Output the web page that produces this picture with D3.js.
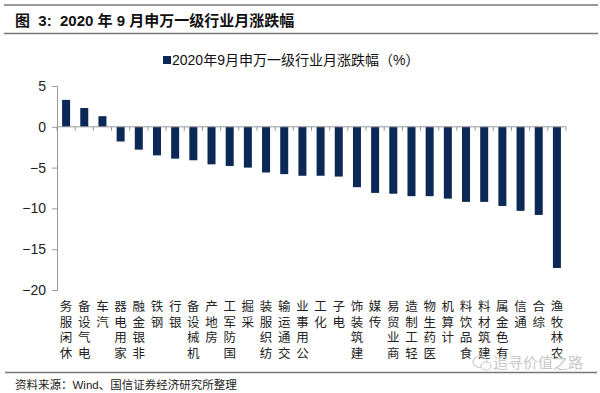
<!DOCTYPE html>
<html>
<head>
<meta charset="utf-8">
<script src="https://cdn.jsdelivr.net/npm/d3@7"></script>
<style>
  body { margin: 0; background: #fff; }
  text { font-family: Arial, "Liberation Sans", "Noto Sans CJK SC", sans-serif; }
</style>
</head>
<body>
<script>
// 申万一级行业 2020年9月 月涨跌幅 (%)
var industries = ["休闲服务", "电气设备", "汽车", "家用电器", "非银金融", "钢铁", "银行",
    "机械设备", "房地产", "国防军工", "采掘", "纺织服装", "交通运输", "公用事业", "化工",
    "电子", "建筑装饰", "传媒", "商业贸易", "轻工制造", "医药生物", "计算机", "食品饮料",
    "建筑材料", "有色金属", "通信", "综合", "农林牧渔"];
var changes = [3.3, 2.3, 1.3, -1.8, -2.8, -3.5, -3.9,
    -4.1, -4.6, -4.8, -5.0, -5.6, -5.8, -6.0, -6.0,
    -6.1, -7.4, -8.1, -8.2, -8.5, -8.5, -8.8, -9.2,
    -9.2, -9.7, -10.3, -10.8, -17.3];
var yTicks = [5, 0, -5, -10, -15, -20];

var width = 600;
var height = 393;
var barColor = "#0b2856";
var cjk = '"Noto Sans CJK SC", sans-serif';

var svg = d3.select("body").append("svg")
    .attr("width", width)
    .attr("height", height);

// header
svg.append("line").attr("x1", 4).attr("x2", 598).attr("y1", 5).attr("y2", 5)
    .attr("stroke", "#777").attr("stroke-width", 1.5);
svg.append("line").attr("x1", 4).attr("x2", 598).attr("y1", 33.5).attr("y2", 33.5)
    .attr("stroke", "#777").attr("stroke-width", 1.5);
svg.append("text")
    .attr("x", 15).attr("y", 26)
    .attr("font-size", 15).attr("font-weight", "bold").attr("fill", "#111")
    .style("font-family", 'Arial, "Noto Sans CJK SC", sans-serif')
    .attr("xml:space", "preserve")
    .text("图  3:  2020 年 9 月申万一级行业月涨跌幅");

// legend
svg.append("rect").attr("x", 163).attr("y", 56).attr("width", 8).attr("height", 8).attr("fill", barColor);
svg.append("text")
    .attr("x", 172).attr("y", 65)
    .attr("font-size", 14).attr("fill", "#111")
    .style("font-family", 'Arial, "Noto Sans CJK SC", sans-serif')
    .text("2020年9月申万一级行业月涨跌幅（%）");

// scales
var x = d3.scaleBand()
    .domain(industries)
    .range([57, 566])
    .paddingInner(0.56)
    .paddingOuter(0.28);

var y = d3.scaleLinear()
    .domain([-20, 5])
    .range([290, 86]);

// y axis
var yAxis = d3.axisLeft(y).tickValues(yTicks).tickSize(5).tickPadding(6);
var gy = svg.append("g").attr("transform", "translate(57,0)").call(yAxis);
gy.selectAll("path, line").attr("stroke", "#999");
gy.selectAll("text").attr("font-size", 14).attr("fill", "#222")
    .style("font-family", "Arial, sans-serif");

// bars
svg.selectAll("rect.bar")
    .data(changes)
    .enter()
    .append("rect")
    .attr("class", "bar")
    .attr("x", function(d, i) { return x(industries[i]); })
    .attr("width", x.bandwidth())
    .attr("y", function(d) { return y(Math.max(0, d)); })
    .attr("height", function(d) { return Math.abs(y(d) - y(0)); })
    .attr("fill", barColor);

// zero line with ticks at band boundaries
svg.append("line")
    .attr("x1", 57).attr("x2", 566)
    .attr("y1", y(0)).attr("y2", y(0))
    .attr("stroke", "#999").attr("stroke-width", 1);
var step = x.step();
svg.selectAll("line.xtick")
    .data(d3.range(industries.length + 1))
    .enter()
    .append("line")
    .attr("class", "xtick")
    .attr("x1", function(d) { return 57 + d * (509 / industries.length); })
    .attr("x2", function(d) { return 57 + d * (509 / industries.length); })
    .attr("y1", y(0)).attr("y2", y(0) + 4)
    .attr("stroke", "#999");

// category labels: stacked upright characters, read bottom to top
industries.forEach(function(name, i) {
    var cx = x(name) + x.bandwidth() / 2;
    var chars = name.split("").reverse();
    var g = svg.append("g");
    chars.forEach(function(c, k) {
        g.append("text")
            .attr("x", cx).attr("y", 311 + k * 15.5)
            .attr("text-anchor", "middle")
            .attr("font-size", 12.5).attr("fill", "#222")
            .style("font-family", cjk)
            .text(c);
    });
});

// footer
svg.append("line").attr("x1", 5).attr("x2", 597).attr("y1", 372.5).attr("y2", 372.5)
    .attr("stroke", "#777").attr("stroke-width", 1.5);
svg.append("text")
    .attr("x", 15).attr("y", 389)
    .attr("font-size", 11.5).attr("fill", "#222")
    .style("font-family", 'Arial, "Noto Sans CJK SC", sans-serif')
    .text("资料来源：Wind、国信证券经济研究所整理");

// watermark
svg.append("text")
    .attr("x", 493).attr("y", 368)
    .attr("font-size", 15).attr("fill", "#c8c8c8")
    .style("font-family", cjk)
    .text("追寻价值之路");
svg.append("ellipse").attr("cx", 480).attr("cy", 362).attr("rx", 7).attr("ry", 5.5)
    .attr("fill", "none").attr("stroke", "#ccc").attr("stroke-width", 1.2);
svg.append("ellipse").attr("cx", 486).attr("cy", 366).attr("rx", 5).attr("ry", 4)
    .attr("fill", "#fff").attr("stroke", "#ccc").attr("stroke-width", 1.2);
</script>
</body>
</html>
